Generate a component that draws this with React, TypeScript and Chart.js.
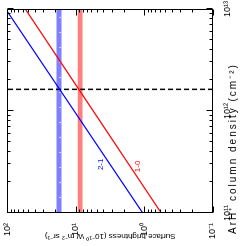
import React, { useEffect, useRef } from "react";
import { Chart, registerables } from "chart.js";

Chart.register(...registerables);

// ---- data (original, un-rotated chart: x = column density, y = surface brightness) ----
const xRange = [1e11, 1e13];
const yRange = [0.1, 100];
const columnDensity = [1e11, 1e13];
const brightness21 = [1.06, 106];
const brightness10 = [0.57, 55];
const band21 = [16.2, 19.2];
const band21Dots = [17.0];
const band10 = [8.0, 9.4];
const bestColumn = [1.63e12];
const xTickValues = [1e11, 1e12, 1e13];
const xTickLabels = ["10¹¹", "10¹²", "10¹³"];
const yTickValues = [0.1, 1, 10, 100];
const yTickLabels = ["10⁻¹", "10⁰", "10¹", "10²"];
const lineNames = ["2-1", "1-0"];
const lineColors = ["#0000ff", "#ff0000"];
const lineLabelX = [3.0e11, 2.86e11];
const lineLabelY = [4.27, 1.27];
const xTitle = "ArH⁺ column density (cm⁻²)";
const yTitle = "Surface brightness (10⁻¹⁰ W m⁻² sr⁻¹)";

const FONT = "'Liberation Sans', Arial, Helvetica, sans-serif";

const flat = (v: number) => columnDensity.map((x) => ({ x, y: v }));

function minorValues(lo: number, hi: number): number[] {
  const out: number[] = [];
  for (let d = Math.round(Math.log10(lo)); d < Math.round(Math.log10(hi)); d++) {
    for (let m = 2; m <= 9; m++) out.push(m * Math.pow(10, d));
  }
  return out;
}

const framePlugin = {
  id: "frameTicks",
  afterDatasetsDraw(chart: any) {
    const { ctx, chartArea: a, scales } = chart;
    const xs = scales.x;
    const ys = scales.y;
    const L = Math.round(a.left) + 0.5;
    const R = Math.round(a.right) - 0.5;
    const T = Math.round(a.top) + 0.5;
    const B = Math.round(a.bottom) - 0.5;
    ctx.save();
    ctx.strokeStyle = "#000";
    ctx.lineWidth = 1;
    ctx.beginPath();
    const tick = (v: number, len: number, horiz: boolean) => {
      if (horiz) {
        const p = Math.round(xs.getPixelForValue(v)) + 0.5;
        ctx.moveTo(p, B);
        ctx.lineTo(p, B - len);
        ctx.moveTo(p, T);
        ctx.lineTo(p, T + len);
      } else {
        const p = Math.round(ys.getPixelForValue(v)) + 0.5;
        ctx.moveTo(L, p);
        ctx.lineTo(L + len, p);
        ctx.moveTo(R, p);
        ctx.lineTo(R - len, p);
      }
    };
    xTickValues.forEach((v) => tick(v, 6, true));
    minorValues(xRange[0], xRange[1]).forEach((v) => tick(v, 3, true));
    yTickValues.forEach((v) => tick(v, 6, false));
    minorValues(yRange[0], yRange[1]).forEach((v) => tick(v, 3, false));
    ctx.stroke();
    ctx.strokeRect(L, T, R - L, B - T);

    ctx.font = `8px ${FONT}`;
    ctx.textAlign = "center";
    ctx.textBaseline = "middle";
    lineNames.forEach((name, i) => {
      ctx.fillStyle = lineColors[i];
      ctx.fillText(name, xs.getPixelForValue(lineLabelX[i]), ys.getPixelForValue(lineLabelY[i]));
    });

    // x-axis title (placed left of centre, as in the reference)
    ctx.fillStyle = "#000";
    ctx.font = `10px ${FONT}`;
    (ctx as any).letterSpacing = "2px";
    ctx.textAlign = "left";
    ctx.textBaseline = "middle";
    ctx.fillText(xTitle, 12, chart.height - 7);
    ctx.restore();
  },
};

export default function App() {
  const ref = useRef<HTMLCanvasElement | null>(null);
  useEffect(() => {
    if (!ref.current) return;
    const chart = new Chart(ref.current, {
      type: "line",
      data: {
        datasets: [
          { data: columnDensity.map((x, i) => ({ x, y: brightness21[i] })), borderColor: lineColors[0], borderWidth: 1.2, pointRadius: 0, fill: false, order: 0 },
          { data: columnDensity.map((x, i) => ({ x, y: brightness10[i] })), borderColor: lineColors[1], borderWidth: 1.2, pointRadius: 0, fill: false, order: 0 },
          { data: [{ x: bestColumn[0], y: yRange[0] }, { x: bestColumn[0], y: yRange[1] }], borderColor: "#000", borderWidth: 1.5, borderDash: [5, 3], pointRadius: 0, fill: false, order: 1 },
          { data: flat(band21Dots[0]), borderColor: "#ffffff", borderWidth: 1.2, borderDash: [1, 14], pointRadius: 0, fill: false, order: 2 },
          { data: flat(band21[0]), borderWidth: 0, borderColor: "rgba(0,0,0,0)", pointRadius: 0, fill: false, order: 5 },
          { data: flat(band21[1]), borderWidth: 0, borderColor: "rgba(0,0,0,0)", backgroundColor: "#7f7fff", pointRadius: 0, fill: "-1", order: 5 },
          { data: flat(band10[0]), borderWidth: 0, borderColor: "rgba(0,0,0,0)", pointRadius: 0, fill: false, order: 5 },
          { data: flat(band10[1]), borderWidth: 0, borderColor: "rgba(0,0,0,0)", backgroundColor: "#ff7f7f", pointRadius: 0, fill: "-1", order: 5 },
        ],
      },
      options: {
        responsive: false,
        animation: false,
        devicePixelRatio: 1,
        layout: { padding: { top: 5, right: 7, left: 0, bottom: 0 }, autoPadding: false },
        plugins: { legend: { display: false }, tooltip: { enabled: false } },
        scales: {
          x: {
            type: "logarithmic",
            position: "bottom",
            min: xRange[0],
            max: xRange[1],
            grid: { display: false },
            border: { display: false },
            afterBuildTicks: (s: any) => { s.ticks = xTickValues.map((value) => ({ value })); },
            afterFit: (s: any) => { s.height = 27; },
            ticks: {
              autoSkip: false,
              maxRotation: 0,
              minRotation: 0,
              padding: 1,
              color: "#000",
              font: { family: FONT, size: 9 },
              callback: (v: any) => xTickLabels[xTickValues.indexOf(Number(v))] ?? "",
            },
            title: { display: false },
          },
          y: {
            type: "logarithmic",
            position: "left",
            min: yRange[0],
            max: yRange[1],
            grid: { display: false },
            border: { display: false },
            afterBuildTicks: (s: any) => { s.ticks = yTickValues.map((value) => ({ value })); },
            afterFit: (s: any) => { s.width = 33; },
            ticks: {
              autoSkip: false,
              padding: 2,
              color: "#000",
              font: { family: FONT, size: 9 },
              callback: (v: any) => yTickLabels[yTickValues.indexOf(Number(v))] ?? "",
            },
            title: { display: true, text: yTitle, color: "#000", font: { family: FONT, size: 8 }, padding: { top: 5, bottom: 0 } },
          },
        },
      },
      plugins: [framePlugin],
    } as any);
    return () => chart.destroy();
  }, []);

  return (
    <div
      style={{
        position: "fixed",
        left: 0,
        top: 0,
        width: 246,
        height: 240,
        transformOrigin: "0 0",
        transform: "translateY(246px) rotate(-90deg)",
        background: "#fff",
      }}
    >
      <canvas ref={ref} width={246} height={240} style={{ width: 246, height: 240, display: "block" }} />
    </div>
  );
}
